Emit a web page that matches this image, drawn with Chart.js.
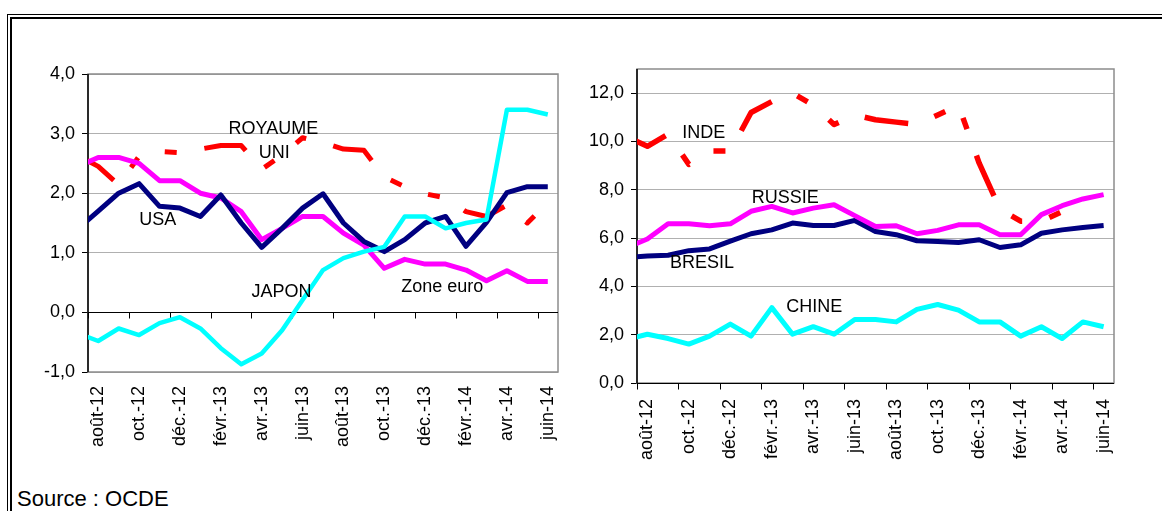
<!DOCTYPE html>
<html lang="fr">
<head>
<meta charset="utf-8">
<title>Inflation – pays de l'OCDE et grands émergents</title>
<script src="https://cdn.jsdelivr.net/npm/chart.js@4.4.1/dist/chart.umd.min.js"></script>
<style>
  html, body { margin: 0; padding: 0; background: #fff; }
  body { position: relative; width: 1162px; height: 511px; overflow: hidden;
         font-family: "Liberation Sans", Arial, sans-serif; color: #000; }
  .rule-thin  { position: absolute; left: 7px;  top: 14px; right: -20px; bottom: -20px;
                border-left: 1px solid #000; border-top: 1px solid #000; }
  .rule-thick { position: absolute; left: 10px; top: 17px; right: -20px; bottom: -20px;
                border-left: 2.5px solid #000; border-top: 2.5px solid #000; }
  canvas { position: absolute; top: 0; }
  #left  { left: 0; }
  #right { left: 580px; }
  .source { position: absolute; left: 17px; top: 488px; font-size: 22px; line-height: 22px; }
</style>
</head>
<body>
<div class="rule-thin"></div>
<div class="rule-thick"></div>
<canvas id="left" width="580" height="480"></canvas>
<canvas id="right" width="582" height="480"></canvas>
<div class="source">Source : OCDE</div>

<script>
// Months (the July 2012 point sits just outside the visible range)
const months = ['juil.-12', 'août-12', 'sept.-12', 'oct.-12', 'nov.-12', 'déc.-12',
  'janv.-13', 'févr.-13', 'mars-13', 'avr.-13', 'mai-13', 'juin-13', 'juil.-13',
  'août-13', 'sept.-13', 'oct.-13', 'nov.-13', 'déc.-13', 'janv.-14', 'févr.-14',
  'mars-14', 'avr.-14', 'mai-14', 'juin-14'];

// Inflation, glissement annuel (%) – économies avancées
const usa        = [1.4, 1.7, 2.0, 2.16, 1.78, 1.75, 1.61, 1.97, 1.5, 1.09, 1.41, 1.75, 1.99,
                    1.5, 1.19, 1.02, 1.22, 1.5, 1.61, 1.11, 1.51, 2.01, 2.11, 2.11];
const japon      = [-0.35, -0.48, -0.27, -0.38, -0.18, -0.08, -0.27, -0.6, -0.87, -0.69, -0.3, 0.21, 0.71,
                    0.91, 1.02, 1.1, 1.61, 1.61, 1.41, 1.5, 1.56, 3.4, 3.4, 3.32];
const zoneEuro   = [2.45, 2.6, 2.6, 2.5, 2.21, 2.21, 2.0, 1.92, 1.69, 1.22, 1.41, 1.61, 1.61,
                    1.33, 1.13, 0.74, 0.89, 0.81, 0.81, 0.71, 0.53, 0.7, 0.52, 0.52];
const royaumeUni = [2.63, 2.45, 2.14, 2.62, 2.7, 2.68, 2.74, 2.8, 2.8, 2.4, 2.64, 2.93, 2.85,
                    2.74, 2.72, 2.27, 2.11, 1.99, 1.92, 1.69, 1.61, 1.8, 1.5, 1.84];

// Inflation, glissement annuel (%) – grands émergents
const inde   = [10.2, 9.8, 10.3, 9.05, 9.6, 9.6, 11.2, 11.65, 12.0, 11.5, 10.7, 11.1, 10.9,
                10.8, 10.7, 11.1, 11.5, 9.1, 7.2, 6.7, 6.7, 7.1, null, null];
const russie = [5.6, 5.96, 6.59, 6.59, 6.51, 6.59, 7.11, 7.31, 7.04, 7.24, 7.38, 6.93, 6.48,
                6.51, 6.18, 6.32, 6.55, 6.55, 6.14, 6.14, 6.97, 7.34, 7.62, 7.8];
const bresil = [5.2, 5.26, 5.29, 5.48, 5.55, 5.87, 6.18, 6.34, 6.62, 6.52, 6.52, 6.73, 6.27,
                6.14, 5.89, 5.86, 5.82, 5.93, 5.61, 5.72, 6.2, 6.34, 6.44, 6.52];
const chine  = [1.8, 2.02, 1.84, 1.61, 1.94, 2.44, 1.94, 3.12, 2.02, 2.33, 2.02, 2.63, 2.63,
                2.53, 3.05, 3.25, 3.02, 2.53, 2.53, 1.94, 2.33, 1.84, 2.53, 2.33];

// Series names written inside each panel (month index, value)
const leftTags = [
  { text: 'ROYAUME', at: 9.57, v: 3.08 },
  { text: 'UNI', at: 9.61, v: 2.68 },
  { text: 'USA', at: 3.91, v: 1.55 },
  { text: 'JAPON', at: 9.97, v: 0.35 },
  { text: 'Zone euro', at: 17.84, v: 0.42 }
];
const rightTags = [
  { text: 'INDE', at: 3.72, v: 10.33 },
  { text: 'RUSSIE', at: 7.65, v: 7.66 },
  { text: 'BRESIL', at: 3.63, v: 4.98 },
  { text: 'CHINE', at: 9.05, v: 3.16 }
];

Chart.defaults.font.family = "'Liberation Sans', Arial, sans-serif";
Chart.defaults.font.size = 18;
Chart.defaults.color = '#000';

const longDashDotDot = [44, 28, 12, 28, 12, 28];

// Plot frame, axis lines and the month tick marks hanging below the zero line
const axisFrame = {
  id: 'axisFrame',
  beforeDatasetsDraw(chart) {
    const { ctx, chartArea: a, scales: { x, y } } = chart;
    const seg = (x1, y1, x2, y2) => { ctx.beginPath(); ctx.moveTo(x1, y1); ctx.lineTo(x2, y2); ctx.stroke(); };
    ctx.save();
    ctx.strokeStyle = '#8c8c8c';
    ctx.lineWidth = 1.5;
    ctx.strokeRect(a.left, a.top, a.right - a.left, a.bottom - a.top);
    const y0 = Math.round(y.getPixelForValue(0)) + 0.5;
    const half = (x.getPixelForValue(x.min + 1) - x.getPixelForValue(x.min)) / 2;
    ctx.strokeStyle = '#000';
    ctx.lineWidth = 1;
    seg(a.left, y0, a.right, y0);
    for (let i = x.min; i <= x.max; i += 2) {
      const px = Math.round(x.getPixelForValue(i) - half) + 0.5;
      seg(px, y0, px, y0 + 6);
    }
    ctx.lineWidth = 1.5;
    seg(a.left, a.top, a.left, a.bottom);
    ctx.restore();
  }
};

const seriesTags = {
  id: 'seriesTags',
  afterDatasetsDraw(chart, args, opts) {
    const { ctx, scales: { x, y } } = chart;
    ctx.save();
    ctx.font = "18px 'Liberation Sans', Arial, sans-serif";
    ctx.fillStyle = '#000';
    ctx.textAlign = 'center';
    ctx.textBaseline = 'middle';
    for (const t of opts.tags) {
      ctx.fillText(t.text, x.getPixelForValue(t.at), y.getPixelForValue(t.v));
    }
    ctx.restore();
  }
};

function line(label, data, color, width, dashed) {
  return {
    label, data,
    borderColor: color,
    borderWidth: width,
    borderDash: dashed ? longDashDotDot : [],
    borderJoinStyle: 'round',
    pointRadius: 0,
    tension: 0,
    fill: false,
    spanGaps: false
  };
}

function options(cfg) {
  return {
    responsive: false,
    animation: false,
    devicePixelRatio: 1,
    layout: { padding: cfg.padding },
    plugins: { legend: { display: false }, tooltip: { enabled: false }, seriesTags: { tags: cfg.tags } },
    scales: {
      x: {
        type: 'category',
        min: 1,
        offset: true,
        grid: { display: false },
        border: { display: false },
        ticks: {
          autoSkip: false, maxRotation: 90, minRotation: 90, padding: cfg.xPad,
          callback(value) { return value % 2 === 1 ? this.getLabelForValue(value) : null; }
        },
        afterFit(s) { s.height = cfg.xHeight; }
      },
      y: {
        min: cfg.min, max: cfg.max,
        grid: { color: '#b0b0b0', lineWidth: 1, tickLength: 6, tickColor: '#000' },
        border: { display: false },
        ticks: {
          stepSize: cfg.step, includeBounds: false, padding: 7,
          callback: v => v.toFixed(1).replace('.', ',')
        },
        afterFit(s) { s.width = cfg.yWidth; }
      }
    }
  };
}

new Chart(document.getElementById('left'), {
  type: 'line',
  data: {
    labels: months,
    datasets: [
      line('JAPON', japon, '#00ffff', 4.5, false),
      line('USA', usa, '#000080', 5, false),
      line('Zone euro', zoneEuro, '#ff00ff', 5, false),
      line('ROYAUME UNI', royaumeUni, '#ff0000', 5, true)
    ]
  },
  options: options({ min: -1, max: 4, step: 1, padding: { top: 74, left: 0, right: 22, bottom: 0 },
                     yWidth: 88, xHeight: 108, xPad: 6, tags: leftTags }),
  plugins: [axisFrame, seriesTags]
});

new Chart(document.getElementById('right'), {
  type: 'line',
  data: {
    labels: months,
    datasets: [
      line('RUSSIE', russie, '#ff00ff', 5, false),
      line('BRESIL', bresil, '#000080', 5, false),
      line('CHINE', chine, '#00ffff', 5, false),
      line('INDE', inde, '#ff0000', 5.5, true)
    ]
  },
  options: options({ min: 0, max: 13, step: 2, padding: { top: 69, left: 0, right: 48, bottom: 0 },
                     yWidth: 57, xHeight: 97, xPad: 8, tags: rightTags }),
  plugins: [axisFrame, seriesTags]
});
</script>
</body>
</html>
